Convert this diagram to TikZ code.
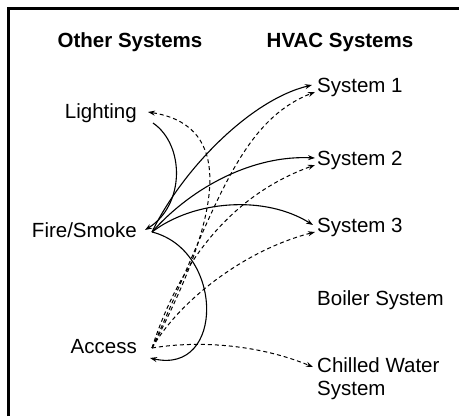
\documentclass[tikz,border=0pt]{standalone}
\usepackage{fontspec}
\setmainfont{Liberation Sans}
\usetikzlibrary{arrows.meta}

\begin{document}
\begin{tikzpicture}[x=1pt,y=-1pt,>={Stealth[length=7pt,width=5pt]},
  every node/.style={font=\fontsize{20.5}{23}\selectfont},
  head/.style={font=\fontsize{20.5}{23}\selectfont\bfseries,anchor=base},
  other/.style={anchor=base east,inner xsep=15pt,inner ysep=0pt},
  hvac/.style={anchor=base west,inner xsep=4pt,inner ysep=0pt,align=left},
  ctrl/.style={line width=1.1pt},
  link/.style={line width=1pt,dash pattern=on 4pt off 3pt}]
\fill[white] (0,0) rectangle (460,416);
\useasboundingbox (0,0) rectangle (460,416);
\draw[line width=3pt] (8.5,416) -- (8.5,8.5) -- (459,8.5);
% column heads
\node[head] (otherhd) at (130,47) {Other Systems};
\node[head] (hvachd) at (340,47) {HVAC Systems};
% other systems
\node[other] (light) at (152,118) {Lighting};
\node[other] (fire) at (152,237) {Fire/Smoke};
\node[other] (access) at (152,353) {Access};
% hvac systems
\node[hvac] (sys1) at (313,92) {System 1};
\node[hvac] (sys2) at (313,165) {System 2};
\node[hvac] (sys3) at (313,232) {System 3};
\node[hvac] (boiler) at (313,305) {Boiler System};
\node[hvac] (chw) at (313,395) {Chilled Water\\System};
% solid links
\draw[ctrl,->] ([xshift=1pt,yshift=-5pt]light.base east) .. controls +(32,22) and +(40,-25) .. ([xshift=-7pt,yshift=7pt]fire.base east);
\draw[ctrl,->] ([yshift=5pt]fire.base east) .. controls +(30,-62) and +(-62,15) .. ([xshift=-1pt,yshift=7pt]sys1.base west);
\draw[ctrl,->] ([yshift=5pt]fire.base east) .. controls +(42,-47) and +(-60,-3) .. ([xshift=2pt,yshift=7pt]sys2.base west);
\draw[ctrl,->] ([yshift=5pt]fire.base east) .. controls +(42,-32) and +(-48,-30) .. ([yshift=7pt]sys3.base west);
\draw[ctrl,->] ([yshift=5pt]fire.base east) .. controls +(72,18) and +(75,17) .. ([xshift=-2pt,yshift=-5pt]access.base east);
% dashed links
\draw[link,->] ([yshift=5pt]access.base east) .. controls +(83,-158) and +(75,12) .. ([xshift=-4pt,yshift=6pt]light.base east);
\draw[link,->] ([yshift=5pt]access.base east) .. controls +(63,-138) and +(-77,30) .. ([xshift=2pt]sys1.base west);
\draw[link,->] ([yshift=5pt]access.base east) .. controls +(33,-103) and +(-70,25) .. ([xshift=2pt]sys2.base west);
\draw[link,->] ([yshift=5pt]access.base east) .. controls +(28,-48) and +(-70,18) .. ([xshift=2pt]sys3.base west);
\draw[link,->] ([yshift=5pt]access.base east) .. controls +(48,-8) and +(-53,-22) .. ([yshift=28pt]chw.base west);
\end{tikzpicture}
\end{document}
